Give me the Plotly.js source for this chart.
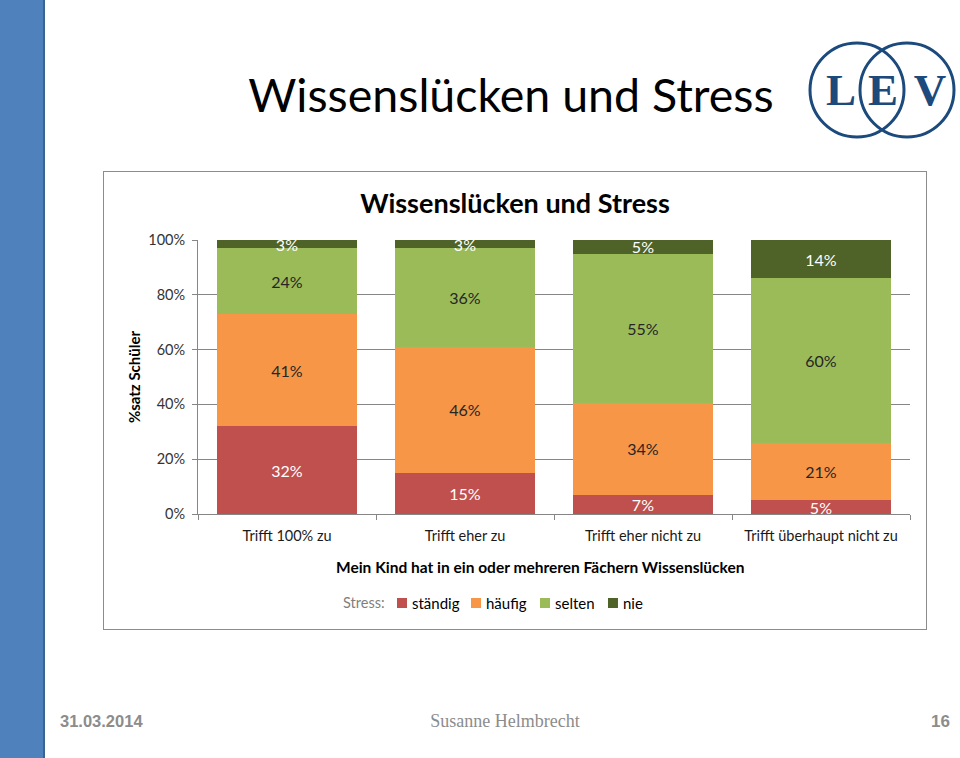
<!DOCTYPE html>
<html>
<head>
<meta charset="utf-8">
<script src="https://cdn.plot.ly/plotly-3.0.1.min.js"></script>
<style>
  html, body { margin:0; padding:0; width:960px; height:758px; background:#fff; overflow:hidden; }
  #side { position:absolute; left:0; top:0; width:43px; height:758px; background:#4f81bd; border-right:2px solid #3b6390; }
  #slidetitle { position:absolute; left:0; width:1022px; top:62px; text-align:center; font-family:Lato, sans-serif; font-size:46.5px; color:#000; line-height:64px; }
  #logo { position:absolute; left:800px; top:30px; }
  #chartbox { position:absolute; left:103px; top:171px; width:822px; height:457px; border:1px solid #8c8c8c; }
  #chart { width:822px; height:457px; }
  .foot { position:absolute; top:712px; color:#8c8c8c; }
  #date { left:60px; font-family:"Liberation Sans", Arial, sans-serif; font-weight:bold; font-size:16.5px; }
  #author { left:405px; width:200px; text-align:center; font-family:"Liberation Serif", serif; font-size:18px; top:711px; }
  #page { left:915px; width:35px; text-align:right; font-family:"Liberation Sans", Arial, sans-serif; font-weight:bold; font-size:17px; }
</style>
</head>
<body>
<div id="side"></div>
<div id="slidetitle">Wissenslücken und Stress</div>
<svg id="logo" width="160" height="120" xmlns="http://www.w3.org/2000/svg">
  <circle cx="57" cy="60" r="47" fill="none" stroke="#1c4a7c" stroke-width="3"/>
  <circle cx="107" cy="60" r="47" fill="none" stroke="#1c4a7c" stroke-width="3"/>
  <text x="41" y="75" text-anchor="middle" font-family="Liberation Serif, serif" font-weight="bold" font-size="45" fill="#1c4a7c">L</text>
  <text x="83" y="75" text-anchor="middle" font-family="Liberation Serif, serif" font-weight="bold" font-size="45" fill="#1c4a7c">E</text>
  <text x="130" y="75" text-anchor="middle" font-family="Liberation Serif, serif" font-weight="bold" font-size="45" fill="#1c4a7c">V</text>
</svg>
<div id="chartbox"><div id="chart"></div></div>
<div class="foot" id="date">31.03.2014</div>
<div class="foot" id="author">Susanne Helmbrecht</div>
<div class="foot" id="page">16</div>
<script>
const categories = ["Trifft 100% zu", "Trifft eher zu", "Trifft eher nicht zu", "Trifft überhaupt nicht zu"];
const seriesNames = ["ständig", "häufig", "selten", "nie"];
const staendig = [32, 15, 7, 5];
const haeufig = [41, 46, 34, 21];
const selten = [24, 36, 55, 60];
const nie = [3, 3, 5, 14];
const yTicks = [0, 20, 40, 60, 80, 100];

const colors = ["#c0504d", "#f79646", "#9bbb59", "#4f6228"];
const textColors = ["#ffffff", "#262626", "#262626", "#ffffff"];
const FONT = "Lato, 'Open Sans', sans-serif";
const values = [staendig, haeufig, selten, nie];

const data = values.map((vals, i) => ({
  type: "bar", name: seriesNames[i], x: categories, y: vals,
  marker: { color: colors[i] },
  text: vals.map(v => v + "%"),
  textposition: "inside", insidetextanchor: "middle", textangle: 0,
  constraintext: "none",
  textfont: { family: FONT, size: 16, color: textColors[i] },
  hoverinfo: "skip", showlegend: false
}));

// manual legend (layout positions only)
const legY = -0.3248;
const legX = [0.2795, 0.3834, 0.4803, 0.5758];
const shapes = seriesNames.map((n, i) => ({
  type: "rect", xref: "paper", yref: "paper",
  xsizemode: "pixel", ysizemode: "pixel",
  xanchor: legX[i], yanchor: legY,
  x0: 0, x1: 10, y0: -5, y1: 5,
  fillcolor: colors[i], line: { width: 0 }
}));
const annotations = seriesNames.map((n, i) => ({
  xref: "paper", yref: "paper", x: legX[i], y: legY, xshift: 13,
  xanchor: "left", yanchor: "middle", showarrow: false,
  text: n, font: { family: FONT, size: 15, color: "#000" }
}));
annotations.push({
  xref: "paper", yref: "paper", x: 0.2008, y: legY, xanchor: "left", yanchor: "middle",
  showarrow: false, text: "Stress:", font: { family: FONT, size: 14.5, color: "#7f7f7f" }
});
annotations.push({
  xref: "paper", yref: "paper", x: 0.480, y: -0.193, xanchor: "center", yanchor: "middle",
  showarrow: false, text: "<b>Mein Kind hat in ein oder mehreren Fächern Wissenslücken</b>",
  font: { family: FONT, size: 15.5, color: "#000" }
});

const layout = {
  width: 822, height: 457,
  margin: { l: 94, r: 16, t: 68, b: 115 },
  paper_bgcolor: "#ffffff", plot_bgcolor: "#ffffff",
  barmode: "stack", barnorm: "percent", bargap: 0.21,
  font: { family: FONT, size: 14, color: "#000" },
  title: { text: "<b>Wissenslücken und Stress</b>", font: { family: FONT, size: 27, color: "#000" },
           x: 0.5, xref: "container", y: 0.932, yref: "container", yanchor: "middle" },
  xaxis: {
    type: "category", showline: true, linecolor: "#868686", linewidth: 1,
    ticks: "outside", tickson: "boundaries", ticklen: 5, tickcolor: "#868686",
    ticklabelstandoff: 9,
    tickfont: { family: FONT, size: 14.5, color: "#1a1a1a" },
    automargin: false
  },
  yaxis: {
    range: [0, 100], tickvals: yTicks, ticktext: yTicks.map(v => v + "%"),
    showline: true, linecolor: "#868686", linewidth: 1,
    ticks: "outside", ticklen: 5, tickcolor: "#868686", ticklabelstandoff: 4,
    showgrid: true, gridcolor: "#868686", gridwidth: 1, zeroline: false,
    tickfont: { family: FONT, size: 14.5, color: "#333333" },
    title: { text: "<b>%satz Schüler</b>", font: { family: FONT, size: 15, color: "#000" }, standoff: 3 },
    automargin: false
  },
  showlegend: false,
  shapes: shapes,
  annotations: annotations
};
Plotly.newPlot("chart", data, layout, { displayModeBar: false, staticPlot: true });
</script>
</body>
</html>
